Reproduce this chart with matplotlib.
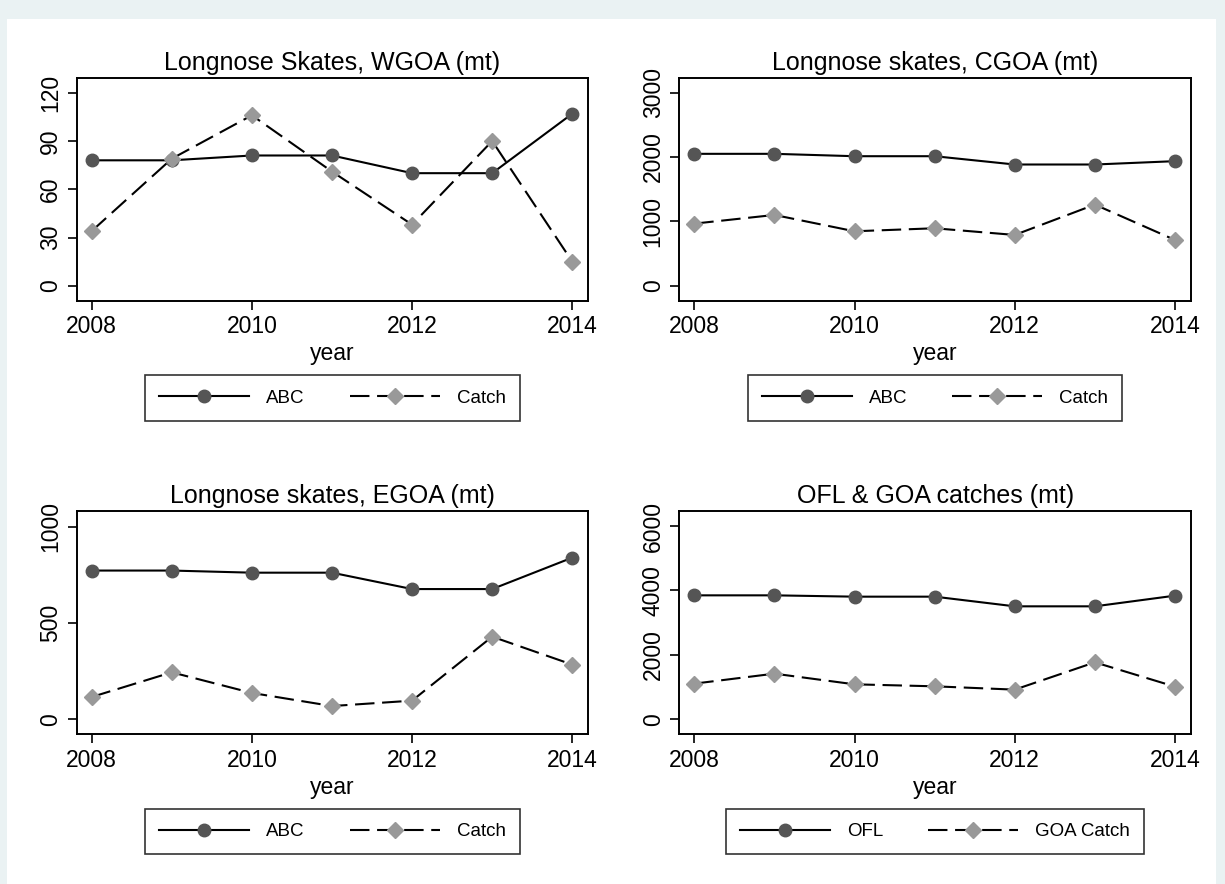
import matplotlib
matplotlib.use("Agg")
import matplotlib.pyplot as plt
from matplotlib.patches import Rectangle

plt.rcParams['font.family'] = ['Liberation Sans', 'DejaVu Sans']
plt.rcParams['lines.scale_dashes'] = False

years = [2008, 2009, 2010, 2011, 2012, 2013, 2014]

wgoa_abc = [78, 78, 81, 81, 70, 70, 107]
wgoa_catch = [34, 79, 106, 71, 38, 90, 15]

cgoa_abc = [2050, 2050, 2013, 2013, 1884, 1884, 1936]
cgoa_catch = [965, 1100, 846, 893, 789, 1261, 711]

egoa_abc = [772, 772, 761, 761, 676, 676, 839]
egoa_catch = [116, 244, 137, 69, 97, 429, 284]

goa_ofl = [3848, 3848, 3807, 3807, 3507, 3507, 3838]
goa_catch = [1107, 1417, 1086, 1024, 921, 1769, 1014]

titles = ["Longnose Skates, WGOA (mt)", "Longnose skates, CGOA (mt)",
          "Longnose skates, EGOA (mt)", "OFL & GOA catches (mt)"]
yticks = [[0, 30, 60, 90, 120], [0, 1000, 2000, 3000],
          [0, 500, 1000], [0, 2000, 4000, 6000]]
ylims = [(-9.3, 129.0), (-233, 3224), (-76, 1081), (-456, 6466)]
legend_labels = [("ABC", "Catch"), ("ABC", "Catch"),
                 ("ABC", "Catch"), ("OFL", "GOA Catch")]
series = [(wgoa_abc, wgoa_catch), (cgoa_abc, cgoa_catch),
          (egoa_abc, egoa_catch), (goa_ofl, goa_catch)]
xticks = [2008, 2010, 2012, 2014]

W, H = 1225, 884
fig = plt.figure(figsize=(W / 100, H / 100), dpi=100)
fig.patch.set_facecolor("#EAF2F3")
panel = Rectangle((7 / W, 0), (1216 - 7) / W, 1 - 19 / H,
                  transform=fig.transFigure, facecolor="white",
                  edgecolor="none", zorder=-10)
fig.add_artist(panel)

# axes boxes in pixel coordinates: left, right, top, bottom
boxes = [(76.7, 588.3, 78.3, 300.7), (679.3, 1191.0, 78.3, 300.7),
         (76.7, 588.3, 511.0, 734.0), (679.3, 1191.0, 511.0, 734.0)]

for i, (l, r, t, b) in enumerate(boxes):
    ax = fig.add_axes([l / W, 1 - b / H, (r - l) / W, (b - t) / H])
    ax.set_facecolor("white")
    s1, s2 = series[i]
    lab1, lab2 = legend_labels[i]
    ax.plot(years, s1, color="black", lw=1.5, marker="o", ms=9,
            markerfacecolor="#555555", markeredgecolor="#555555", label=lab1)
    ax.plot(years, s2, color="black", lw=1.5, linestyle=(0, (14, 5.5)),
            marker="D", ms=8, markerfacecolor="#999999",
            markeredgecolor="#999999", label=lab2)
    ax.set_xlim(2007.813, 2014.2)
    ax.set_ylim(*ylims[i])
    ax.set_xticks(xticks)
    ax.set_yticks(yticks[i])
    ax.set_yticklabels([str(v) for v in yticks[i]], rotation=90, va="center")
    ax.tick_params(axis="both", direction="out", length=6.5, width=1.2,
                   labelsize=16.5, pad=4, color="black")
    for sp in ax.spines.values():
        sp.set_linewidth(1.4)
        sp.set_color("black")
    ax.set_title(titles[i], fontsize=18, pad=6)
    ax.set_xlabel("year", fontsize=16.5, labelpad=3)
    leg = ax.legend(loc="center", bbox_to_anchor=(0.5, -0.4375), ncol=2,
                    fontsize=13.5, frameon=True, fancybox=False,
                    edgecolor="black", handlelength=4.8, handletextpad=0.9,
                    columnspacing=2.4, borderpad=0.75, borderaxespad=0)
    leg.get_frame().set_linewidth(1.2)

fig.savefig("out.png", dpi=100, facecolor=fig.get_facecolor())
